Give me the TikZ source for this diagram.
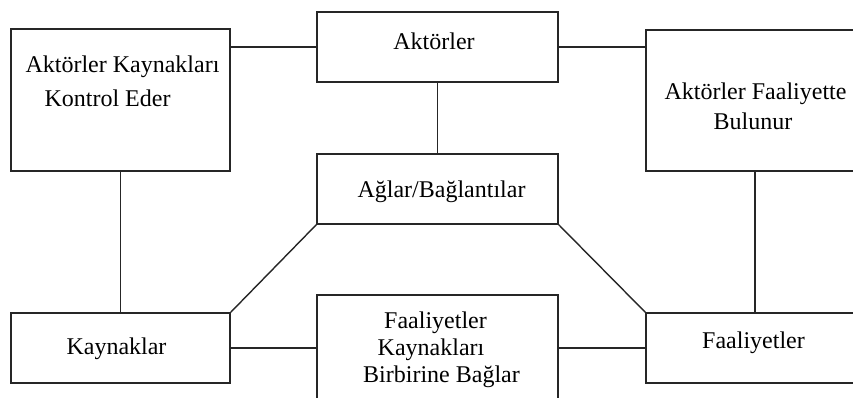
\documentclass[tikz,border=0pt]{standalone}
\usepackage{fontspec}
\setmainfont{Liberation Serif}
\begin{document}
\begin{tikzpicture}[x=1pt,y=-1pt,
  box/.style={draw=black!85, line width=1.4pt, rectangle, inner sep=0pt},
  lbl/.style={anchor=base, inner sep=0pt, font=\fontsize{24}{29}\selectfont},
  link/.style={draw=black!85, line width=1.4pt}]
  \useasboundingbox (0,0) rectangle (853,398);
  \clip (0,0) rectangle (853,398);
  \fill[white] (0,0) rectangle (853,398);

  % boxes
  \node[box, minimum width=219pt, minimum height=142pt] (ctrl) at (120.5,100) {};
  \node[box, minimum width=241pt, minimum height=70pt] (akt) at (437.5,47) {};
  \node[box, minimum width=218pt, minimum height=141pt] (fb) at (755,100.5) {};
  \node[box, minimum width=241pt, minimum height=70pt] (ag) at (437.5,189) {};
  \node[box, minimum width=219pt, minimum height=70pt] (kay) at (120.5,348) {};
  \node[box, minimum width=241pt, minimum height=106pt] (bag) at (437.5,348) {};
  \node[box, minimum width=218pt, minimum height=70pt] (faa) at (755,348) {};

  % labels
  \node[lbl] (ctrl1) at (122.5,73) {Aktörler Kaynakları};
  \node[lbl] (ctrl2) at (107.5,107) {Kontrol Eder};
  \node[lbl] (aktl) at (434,50) {Aktörler};
  \node[lbl] (fb1) at (755.5,100) {Aktörler Faaliyette};
  \node[lbl] (fb2) at (753,130) {Bulunur};
  \node[lbl] (agl) at (441.5,197) {Ağlar/Bağlantılar};
  \node[lbl] (kayl) at (116.5,354) {Kaynaklar};
  \node[lbl] (bag1) at (435.5,328) {Faaliyetler};
  \node[lbl] (bag2) at (431,355) {Kaynakları};
  \node[lbl] (bag3) at (441.5,382) {Birbirine Bağlar};
  \node[lbl] (faal) at (753.5,348) {Faaliyetler};

  % connectors
  \draw[link] (akt.west) -- (akt.west -| ctrl.east);
  \draw[link] (akt.east) -- (akt.east -| fb.west);
  \draw[link] (akt.south) -- (ag.north);
  \draw[link] (ctrl.south) -- (ctrl.south |- kay.north);
  \draw[link] (fb.south) -- (fb.south |- faa.north);
  \draw[link] (ag.south west) -- (kay.north east);
  \draw[link] (ag.south east) -- (faa.north west);
  \draw[link] (kay.east) -- (bag.west);
  \draw[link] (bag.east) -- (faa.west);
\end{tikzpicture}
\end{document}
